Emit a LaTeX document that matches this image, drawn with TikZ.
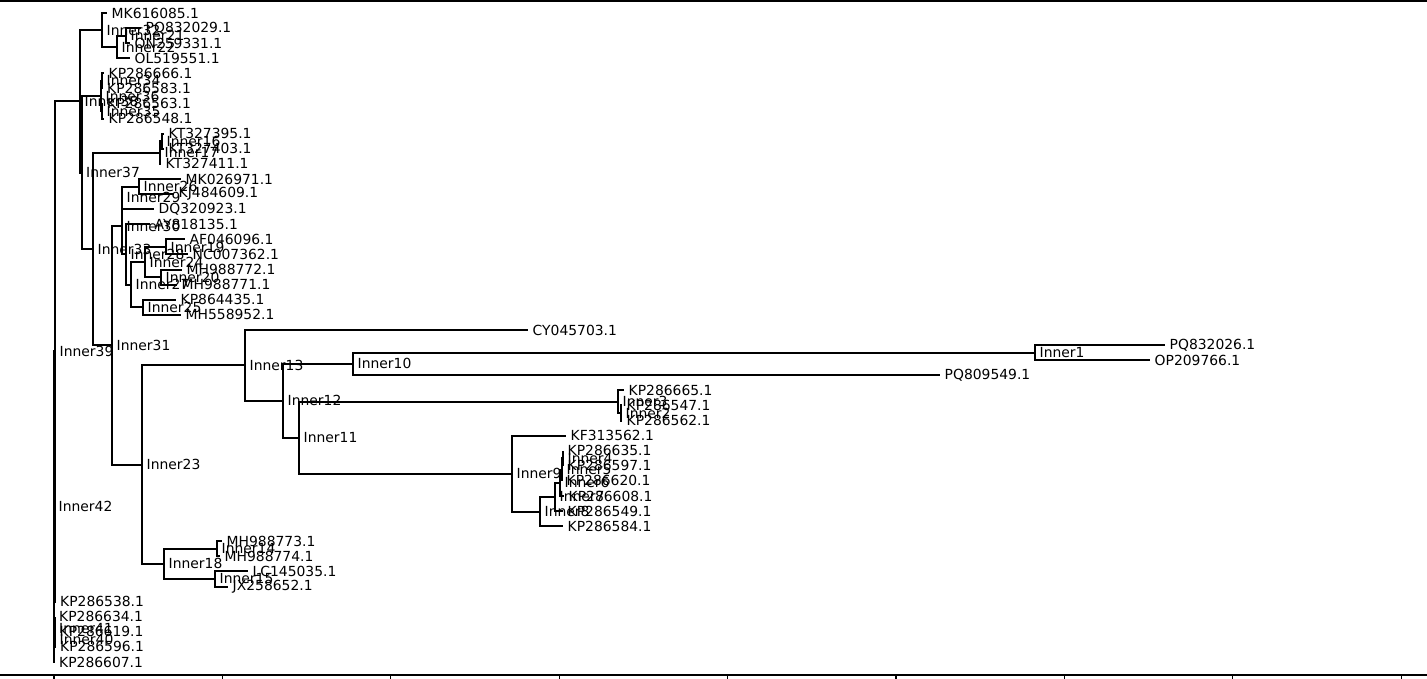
\documentclass[tikz,border=0pt]{standalone}
\usepackage{fontspec}
\setmainfont{DejaVu Sans}
\begin{document}
\begin{tikzpicture}[x=0.72pt,y=-0.72pt,
  lbl/.style={anchor=west,inner xsep=3.2pt,inner ysep=0pt,font=\fontsize{10}{12}\selectfont},
  edge/.style={line width=1.44pt},
  spine/.style={line width=0.8pt}]
\useasboundingbox (0,0) rectangle (1427,678);
% axes frame
\draw[spine] (0,1) -- (1427,1);
\draw[spine] (0,675) -- (1427,675);
\foreach \t in {0,...,8} \draw[spine] ({54+168.4*\t},675) -- ++(0,5);
% tree: y counted in leaf rows
\begin{scope}[shift={(0,13)},y=-10.867pt]
% inner clades
\node[lbl] (in1) at (1035,22.5) {Inner1};
\node[lbl] (in2) at (621,26.5) {Inner2};
\node[lbl] (in3) at (618,25.75) {Inner3};
\node[lbl] (in4) at (563,29.5) {Inner4};
\node[lbl] (in5) at (562,30.25) {Inner5};
\node[lbl] (in6) at (560,31.125) {Inner6};
\node[lbl] (in7) at (555,32.063) {Inner7};
\node[lbl] (in8) at (540,33.031) {Inner8};
\node[lbl] (in9) at (512,30.516) {Inner9};
\node[lbl] (in10) at (353,23.25) {Inner10};
\node[lbl] (in11) at (299,28.133) {Inner11};
\node[lbl] (in12) at (283,25.691) {Inner12};
\node[lbl] (in13) at (245,23.346) {Inner13};
\node[lbl] (in14) at (217,35.5) {Inner14};
\node[lbl] (in15) at (215,37.5) {Inner15};
\node[lbl] (in16) at (162,8.5) {Inner16};
\node[lbl] (in17) at (160,9.25) {Inner17};
\node[lbl] (in18) at (164,36.5) {Inner18};
\node[lbl] (in19) at (166,15.5) {Inner19};
\node[lbl] (in20) at (161,17.5) {Inner20};
\node[lbl] (in21) at (126,1.5) {Inner21};
\node[lbl] (in22) at (117,2.25) {Inner22};
\node[lbl] (in23) at (142,29.923) {Inner23};
\node[lbl] (in24) at (145,16.5) {Inner24};
\node[lbl] (in25) at (143,19.5) {Inner25};
\node[lbl] (in26) at (139,11.5) {Inner26};
\node[lbl] (in27) at (131,18) {Inner27};
\node[lbl] (in28) at (126,16) {Inner28};
\node[lbl] (in29) at (122,12.25) {Inner29};
\node[lbl] (in30) at (122,14.125) {Inner30};
\node[lbl] (in31) at (112,22.024) {Inner31};
\node[lbl] (in32) at (102,1.125) {Inner32};
\node[lbl] (in33) at (93,15.637) {Inner33};
\node[lbl] (in34) at (102,4.5) {Inner34};
\node[lbl] (in35) at (102,6.5) {Inner35};
\node[lbl] (in36) at (101,5.5) {Inner36};
\node[lbl] (in37) at (81.5,10.568) {Inner37};
\node[lbl] (in38) at (80,5.847) {Inner38};
\node[lbl] (in39) at (55,22.423) {Inner39};
\node[lbl] (in40) at (55,41.5) {Inner40};
\node[lbl] (in41) at (54.5,40.75) {Inner41};
\node[lbl] (in42) at (54,32.712) {Inner42};
% leaves
\node[lbl] (MK616085) at (107,0) {MK616085.1};
\node[lbl] (PQ832029) at (141,1) {PQ832029.1};
\node[lbl] (ON259331) at (130,2) {ON259331.1};
\node[lbl] (OL519551) at (130,3) {OL519551.1};
\node[lbl] (KP286666) at (104,4) {KP286666.1};
\node[lbl] (KP286583) at (102.5,5) {KP286583.1};
\node[lbl] (KP286563) at (102.5,6) {KP286563.1};
\node[lbl] (KP286548) at (104,7) {KP286548.1};
\node[lbl] (KT327395) at (164,8) {KT327395.1};
\node[lbl] (KT327403) at (164,9) {KT327403.1};
\node[lbl] (KT327411) at (161,10) {KT327411.1};
\node[lbl] (MK026971) at (181,11) {MK026971.1};
\node[lbl] (KJ484609) at (174,12) {KJ484609.1};
\node[lbl] (DQ320923) at (154,13) {DQ320923.1};
\node[lbl] (AY818135) at (150,14) {AY818135.1};
\node[lbl] (AF046096) at (185,15) {AF046096.1};
\node[lbl] (NC007362) at (188,16) {NC007362.1};
\node[lbl] (MH988772) at (182,17) {MH988772.1};
\node[lbl] (MH988771) at (177,18) {MH988771.1};
\node[lbl] (KP864435) at (176,19) {KP864435.1};
\node[lbl] (MH558952) at (181,20) {MH558952.1};
\node[lbl] (CY045703) at (528,21) {CY045703.1};
\node[lbl] (PQ832026) at (1165,22) {PQ832026.1};
\node[lbl] (OP209766) at (1150,23) {OP209766.1};
\node[lbl] (PQ809549) at (940,24) {PQ809549.1};
\node[lbl] (KP286665) at (624,25) {KP286665.1};
\node[lbl] (KP286547) at (622,26) {KP286547.1};
\node[lbl] (KP286562) at (622,27) {KP286562.1};
\node[lbl] (KF313562) at (566,28) {KF313562.1};
\node[lbl] (KP286635) at (563,29) {KP286635.1};
\node[lbl] (KP286597) at (563,30) {KP286597.1};
\node[lbl] (KP286620) at (562,31) {KP286620.1};
\node[lbl] (KP286608) at (564,32) {KP286608.1};
\node[lbl] (KP286549) at (563,33) {KP286549.1};
\node[lbl] (KP286584) at (563,34) {KP286584.1};
\node[lbl] (MH988773) at (222,35) {MH988773.1};
\node[lbl] (MH988774) at (220,36) {MH988774.1};
\node[lbl] (LC145035) at (248,37) {LC145035.1};
\node[lbl] (JX258652) at (228,38) {JX258652.1};
\node[lbl] (KP286538) at (55.5,39) {KP286538.1};
\node[lbl] (KP286634) at (54.5,40) {KP286634.1};
\node[lbl] (KP286619) at (55,41) {KP286619.1};
\node[lbl] (KP286596) at (55.5,42) {KP286596.1};
\node[lbl] (KP286607) at (54.5,43) {KP286607.1};
% branches
\draw[edge] (in42.west) |- (in39.west) (in42.west) |- (in41.west) (in42.west) |- (KP286607.west);
\draw[edge] (in39.west) |- (in38.west) (in39.west) |- (KP286538.west);
\draw[edge] (in41.west) |- (KP286634.west) (in41.west) |- (in40.west);
\draw[edge] (in40.west) |- (KP286619.west) (in40.west) |- (KP286596.west);
\draw[edge] (in38.west) |- (in32.west) (in38.west) |- (in37.west);
\draw[edge] (in32.west) |- (MK616085.west) (in32.west) |- (in22.west);
\draw[edge] (in22.west) |- (in21.west) (in22.west) |- (OL519551.west);
\draw[edge] (in21.west) |- (PQ832029.west) (in21.west) |- (ON259331.west);
\draw[edge] (in37.west) |- (in36.west) (in37.west) |- (in33.west);
\draw[edge] (in36.west) |- (in34.west) (in36.west) |- (in35.west);
\draw[edge] (in34.west) |- (KP286666.west) (in34.west) |- (KP286583.west);
\draw[edge] (in35.west) |- (KP286563.west) (in35.west) |- (KP286548.west);
\draw[edge] (in33.west) |- (in17.west) (in33.west) |- (in31.west);
\draw[edge] (in17.west) |- (in16.west) (in17.west) |- (KT327411.west);
\draw[edge] (in16.west) |- (KT327395.west) (in16.west) |- (KT327403.west);
\draw[edge] (in31.west) |- (in30.west) (in31.west) |- (in23.west);
\draw[edge] (in30.west) |- (in29.west) (in30.west) |- (in28.west);
\draw[edge] (in29.west) |- (in26.west) (in29.west) |- (DQ320923.west);
\draw[edge] (in26.west) |- (MK026971.west) (in26.west) |- (KJ484609.west);
\draw[edge] (in28.west) |- (AY818135.west) (in28.west) |- (in27.west);
\draw[edge] (in27.west) |- (in24.west) (in27.west) |- (in25.west);
\draw[edge] (in24.west) |- (in19.west) (in24.west) |- (in20.west);
\draw[edge] (in19.west) |- (AF046096.west) (in19.west) |- (NC007362.west);
\draw[edge] (in20.west) |- (MH988772.west) (in20.west) |- (MH988771.west);
\draw[edge] (in25.west) |- (KP864435.west) (in25.west) |- (MH558952.west);
\draw[edge] (in23.west) |- (in13.west) (in23.west) |- (in18.west);
\draw[edge] (in13.west) |- (CY045703.west) (in13.west) |- (in12.west);
\draw[edge] (in12.west) |- (in10.west) (in12.west) |- (in11.west);
\draw[edge] (in10.west) |- (in1.west) (in10.west) |- (PQ809549.west);
\draw[edge] (in1.west) |- (PQ832026.west) (in1.west) |- (OP209766.west);
\draw[edge] (in11.west) |- (in3.west) (in11.west) |- (in9.west);
\draw[edge] (in3.west) |- (KP286665.west) (in3.west) |- (in2.west);
\draw[edge] (in2.west) |- (KP286547.west) (in2.west) |- (KP286562.west);
\draw[edge] (in9.west) |- (KF313562.west) (in9.west) |- (in8.west);
\draw[edge] (in8.west) |- (in7.west) (in8.west) |- (KP286584.west);
\draw[edge] (in7.west) |- (in6.west) (in7.west) |- (KP286549.west);
\draw[edge] (in6.west) |- (in5.west) (in6.west) |- (KP286608.west);
\draw[edge] (in5.west) |- (in4.west) (in5.west) |- (KP286620.west);
\draw[edge] (in4.west) |- (KP286635.west) (in4.west) |- (KP286597.west);
\draw[edge] (in18.west) |- (in14.west) (in18.west) |- (in15.west);
\draw[edge] (in14.west) |- (MH988773.west) (in14.west) |- (MH988774.west);
\draw[edge] (in15.west) |- (LC145035.west) (in15.west) |- (JX258652.west);
\end{scope}
\end{tikzpicture}
\end{document}
